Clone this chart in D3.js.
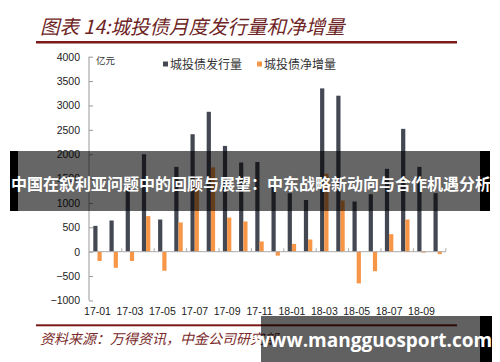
<!DOCTYPE html>
<html>
<head>
<meta charset="utf-8">
<script src="https://cdn.jsdelivr.net/npm/d3@7"></script>
<style>
  body { margin: 0; background: #fff; }
  svg { display: block; }
</style>
</head>
<body>
<div id="chart"></div>
<script>
/*
 * City investment bond monthly issuance vs net increase
 */

var months = ["17-01","17-02","17-03","17-04","17-05","17-06","17-07","17-08","17-09","17-10","17-11",
              "17-12","18-01","18-02","18-03","18-04","18-05","18-06","18-07","18-08","18-09","18-10"];
var issuance = [530, 640, 1300, 2000, 660, 1740, 2410, 2870, 2170, 1830, 1840,
                1350, 1200, 1060, 3350, 3200, 1030, 1180, 1700, 2520, 1740, 1200];
var netIncrease = [-190, -330, -190, 730, -390, 600, 1450, 1730, 700, 620, 210,
                   -80, 160, 250, 1600, 1050, -650, -400, 360, 660, -20, -50];
var yTicks = [-1000, -500, 0, 500, 1000, 1500, 2000, 2500, 3000, 3500, 4000];
var seriesNames = ["城投债发行量", "城投债净增量"];
var seriesColors = ["#434853", "#f79646"];

var titleText = "图表 14:城投债月度发行量和净增量";
var sourceText = "资料来源：万得资讯，中金公司研究部";
var bannerText = "中国在叙利亚问题中的回顾与展望：中东战略新动向与合作机遇分析";
var siteText = "www.mangguosport.com";

var W = 500, H = 362;
var svg = d3.select("#chart").append("svg").attr("width", W).attr("height", H);

var kai = "'Noto Sans CJK SC', sans-serif";
var darkRed = "#7b1a1a";

// title and rule
svg.append("text").attr("x", 40).attr("y", 34)
  .style("font-family", kai).style("font-size", "19.5px").style("font-style", "italic")
  .style("fill", "#6e2424").text(titleText);
svg.append("rect").attr("x", 36).attr("y", 41).attr("width", 421).attr("height", 2.5).style("fill", darkRed);

// scales
var x = d3.scaleBand().domain(months).range([89.4, 445.8]).padding(0);
var step = x.step();
var x1 = d3.scaleBand().domain([0, 1]).range([step * 0.24, step * 0.76]);
var y = d3.scaleLinear().domain([-1000, 4000]).range([300.45, 56.7]);

// y axis
var yAxis = svg.append("g").attr("transform", "translate(89,0)")
  .call(d3.axisLeft(y).tickValues(yTicks).tickSize(-4).tickPadding(9).tickFormat(d3.format("d")));
yAxis.select(".domain").attr("stroke", "#999").attr("d", "M0," + y(4000) + "V" + y(-1000));
yAxis.selectAll(".tick line").attr("stroke", "#999");
yAxis.selectAll("text").style("font-family", "'Liberation Sans', Arial, sans-serif")
  .style("font-size", "10.5px").style("fill", "#222");

svg.append("text").attr("x", 96).attr("y", 64)
  .style("font-family", kai).style("font-size", "9.5px").style("fill", "#333").text("亿元");

// bars
var groups = svg.selectAll(".grp").data(months).enter().append("g")
  .attr("class", "grp").attr("transform", function(d){ return "translate(" + x(d) + ",0)"; });

groups.append("rect")
  .attr("x", x1(0)).attr("width", x1.bandwidth())
  .attr("y", function(d, i){ return y(Math.max(0, issuance[i])); })
  .attr("height", function(d, i){ return Math.abs(y(issuance[i]) - y(0)); })
  .style("fill", seriesColors[0]);

groups.append("rect")
  .attr("x", x1(1)).attr("width", x1.bandwidth())
  .attr("y", function(d, i){ return y(Math.max(0, netIncrease[i])); })
  .attr("height", function(d, i){ return Math.abs(y(netIncrease[i]) - y(0)); })
  .style("fill", seriesColors[1]);

// zero axis line with ticks every two categories
svg.append("line").attr("x1", 89).attr("x2", x.range()[1]).attr("y1", y(0)).attr("y2", y(0))
  .attr("stroke", "#aaa");
var tickMonths = months.filter(function(d, i){ return i % 2 === 0 && i > 0; });
svg.selectAll(".xt").data(tickMonths).enter().append("line")
  .attr("x1", function(d){ return x(d); }).attr("x2", function(d){ return x(d); })
  .attr("y1", y(0) - 3.5).attr("y2", y(0)).attr("stroke", "#aaa");
svg.append("line").attr("x1", x.range()[1]).attr("x2", x.range()[1])
  .attr("y1", y(0) - 3.5).attr("y2", y(0)).attr("stroke", "#aaa");

// x labels at the bottom
var xAxis = svg.append("g").attr("transform", "translate(0,300)")
  .call(d3.axisBottom(x).tickValues(months.filter(function(d, i){ return i % 2 === 0; }))
    .tickSize(0).tickPadding(8));
xAxis.select(".domain").remove();
xAxis.selectAll("text").style("font-family", "'Liberation Sans', Arial, sans-serif")
  .style("font-size", "10.5px").style("fill", "#222");

// legend
var legendX = [163, 257];
seriesNames.forEach(function(name, i){
  svg.append("rect").attr("x", legendX[i]).attr("y", 61.5).attr("width", 5).attr("height", 5)
    .style("fill", seriesColors[i]);
  svg.append("text").attr("x", legendX[i] + 7).attr("y", 68.5)
    .style("font-family", kai).style("font-size", "12px").style("fill", "#333").text(name);
});

// footer
svg.append("rect").attr("x", 36).attr("y", 324.3).attr("width", 421).attr("height", 2).style("fill", darkRed);
svg.append("text").attr("x", 40).attr("y", 344)
  .style("font-family", kai).style("font-size", "14px").style("font-style", "italic")
  .style("fill", "#7a2a2a").text(sourceText);

// overlay banner
svg.append("rect").attr("x", 10).attr("y", 151).attr("width", 480).attr("height", 60)
  .style("fill", "rgba(0,0,0,0.6)");
svg.append("rect").attr("x", 10).attr("y", 151).attr("width", 8).attr("height", 60).style("fill", "#000");
svg.append("rect").attr("x", 480).attr("y", 151).attr("width", 10).attr("height", 60).style("fill", "#000");
svg.append("text").attr("x", 251).attr("y", 190).attr("text-anchor", "middle")
  .style("font-family", kai).style("font-size", "16px").style("font-weight", "bold")
  .style("fill", "#fff").text(bannerText);

// bottom site banner
svg.append("rect").attr("x", 261).attr("y", 316).attr("width", 219).attr("height", 46)
  .style("fill", "rgba(0,0,0,0.62)");
svg.append("rect").attr("x", 480).attr("y", 316).attr("width", 12).attr("height", 46).style("fill", "#000");
svg.append("text").attr("x", 373).attr("y", 347).attr("text-anchor", "middle")
  .style("font-family", "'Open Sans', 'DejaVu Sans', sans-serif").style("font-size", "19px")
  .style("font-weight", "bold").style("fill", "#fff").text(siteText);
</script>
</body>
</html>
